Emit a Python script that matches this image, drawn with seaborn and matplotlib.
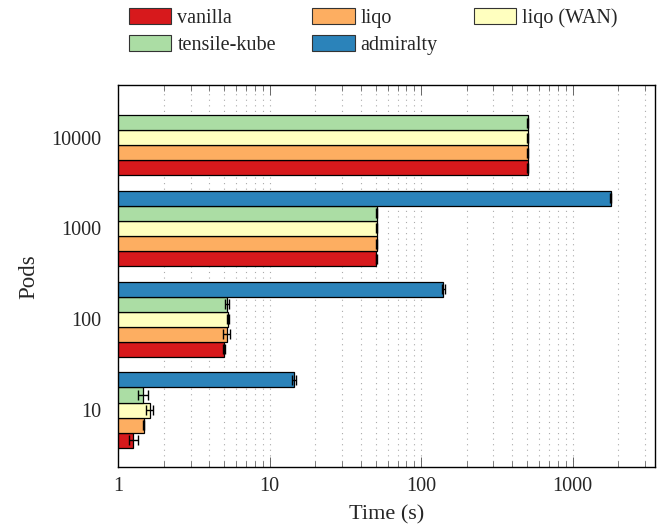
import numpy as np
import pandas as pd
import seaborn as sns
import matplotlib.pyplot as plt
from matplotlib.patches import Patch

# 데이터
pods = ['10', '100', '1000', '10000']
setups = ['vanilla', 'liqo', 'liqo (WAN)', 'tensile-kube', 'admiralty']
colors = ['#d7191c', '#fdae61', '#ffffbf', '#abdda4', '#2b83ba']

vanilla = [1.26, 4.98, 50.5, 505]
liqo = [1.47, 5.2, 51.0, 505]
liqo_wan = [1.61, 5.3, 51.0, 505]
tensile = [1.45, 5.2, 50.8, 505]
admiralty = [14.5, 140, 1780, np.nan]

vanilla_err = [0.08, 0.05, 0.3, 2]
liqo_err = [0.01, 0.3, 0.3, 2]
liqo_wan_err = [0.08, 0.05, 0.3, 2]
tensile_err = [0.11, 0.15, 0.3, 2]
admiralty_err = [0.4, 3, 10, np.nan]

values = [vanilla, liqo, liqo_wan, tensile, admiralty]
errors = [vanilla_err, liqo_err, liqo_wan_err, tensile_err, admiralty_err]

rows = []
for name, vals in zip(setups, values):
    for p, v in zip(pods, vals):
        rows.append({'setup': name, 'pods': p, 'time': v})
df = pd.DataFrame(rows)

sns.set_style('ticks')
plt.rcParams['font.family'] = ['Liberation Serif', 'DejaVu Serif']

fig = plt.figure(figsize=(6.57, 5.25), dpi=100)
ax = fig.add_axes([0.180, 0.110, 0.817, 0.728])

sns.barplot(data=df, x='time', y='pods', hue='setup', order=pods,
            hue_order=setups, palette=colors, saturation=1, orient='h',
            width=0.83, errorbar=None, edgecolor='black', linewidth=0.9, ax=ax)

# error bars
bar_conts = list(ax.containers)
for i, cont in enumerate(bar_conts):
    for bar in cont:
        w = bar.get_width()
        if np.isnan(w):
            continue
        yc = bar.get_y() + bar.get_height() / 2
        cat = int(round(yc))
        err = errors[i][cat]
        if np.isnan(err):
            continue
        ax.errorbar(w, yc, xerr=err, fmt='none', ecolor='black',
                    elinewidth=1.0, capsize=3.5, capthick=1.0)

ax.set_xscale('log')
ax.set_xlim(1, 3500)
ax.set_ylim(-0.63, 3.58)

ax.set_xticks([1, 10, 100, 1000])
ax.set_xticklabels(['1', '10', '100', '1000'])
ax.grid(which='both', axis='x', linestyle=(0, (1, 4)), color='#aaaaaa', linewidth=0.8)
ax.set_axisbelow(True)

ax.tick_params(axis='x', which='both', direction='in', top=True, bottom=True,
               labelsize=14.5, color='#666666')
ax.tick_params(axis='x', which='major', length=7, width=0.7, pad=7)
ax.tick_params(axis='x', which='minor', length=4.5, width=0.6)
ax.tick_params(axis='y', length=0, labelsize=14.5, pad=12)
for s in ax.spines.values():
    s.set_visible(True)
    s.set_color('black')
    s.set_linewidth(1.0)

ax.set_xlabel('Time (s)', fontsize=16, labelpad=7)
ax.set_ylabel('Pods', fontsize=16.5, labelpad=9)

ax.get_legend().remove()
handles = [Patch(facecolor=c, edgecolor='#333333', linewidth=0.8) for c in colors]
idx = [0, 3, 1, 4, 2]
fig.legend([handles[k] for k in idx], [setups[k] for k in idx],
           loc='upper left', bbox_to_anchor=(129 / 657, 1 - 8 / 525),
           ncol=3, frameon=False, fontsize=14.5, handlelength=2.1,
           handleheight=0.85, handletextpad=0.3, columnspacing=1.8,
           labelspacing=0.35, borderpad=0, borderaxespad=0)

plt.savefig('out.png', dpi=100)
